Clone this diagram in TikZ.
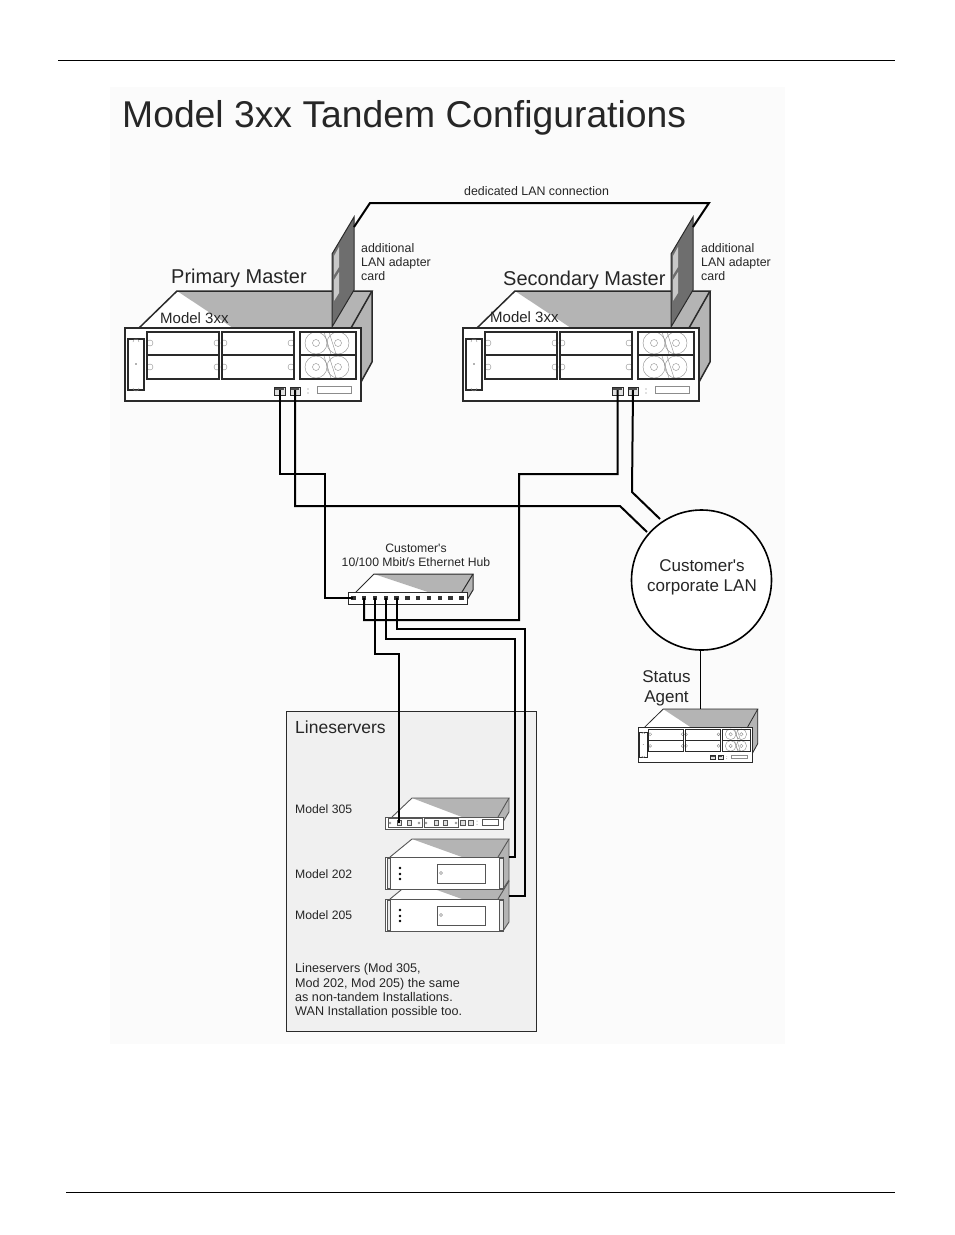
\documentclass[tikz,border=0pt]{standalone}
\usepackage{fontspec}
\setmainfont{Liberation Sans}
\definecolor{wedge}{HTML}{B4B4B4}
\definecolor{carddark}{HTML}{6E6E6E}
\definecolor{slot}{HTML}{C8C8C8}
\definecolor{panelgray}{HTML}{F0F0F0}
\definecolor{pagepanel}{HTML}{FBFBFB}
\definecolor{edge}{HTML}{2A2A2A}
\tikzset{
  wire/.style={draw=black,line width=2pt,line join=miter},
  thin wire/.style={draw=black,line width=1.7pt},
  label/.style={inner sep=0pt,anchor=base west,align=left,text=black!85},
  ctext/.style={inner sep=0pt,align=center,text=black!85},
  fine/.style={draw=black!45,line width=0.4pt},
  body/.style={draw=edge,line width=#1},
}
\newcommand{\fsz}[1]{\fontsize{#1}{#1}\selectfont}
% name, x, y, scale, line width
\newcommand{\rackserver}[5]{%
\begin{scope}[shift={(#2,#3)},scale=#4]
  \fill[white] (14,0)--(52,-37)--(247,-37)--(226,0)--cycle;
  \fill[wedge] (52,-37)--(247,-37)--(226,0)--(108,0)--cycle;
  \fill[wedge] (226,0)--(247,-37)--(247,34)--(236,54)--(236,0)--cycle;
  \draw[body=#5,line join=miter] (14,0)--(52,-37)--(247,-37)--(226,0);
  \draw[body=#5] (247,-37)--(247,34)--(236,54);
  \draw[body=#5,fill=white] (0,0) rectangle (236,73);
  \draw[body=#5] (3,11) rectangle (19,62);
  \draw[fine] (8,14) arc[start angle=180,end angle=360,radius=3];
  \draw[fine] (8,60) arc[start angle=180,end angle=0,radius=3];
  \fill[black!60] (11,36) circle[radius=0.8];
  \foreach \yy in {15,39} {
    \foreach \xx in {25,92,99,166} \draw[fine] (\xx,\yy) circle[radius=3];
    \draw[fine] (191,\yy) circle[radius=11];
    \draw[fine] (191,\yy) circle[radius=3.5];
    \draw[fine] (213,\yy) circle[radius=11];
    \draw[fine] (213,\yy) circle[radius=3.5];
    \draw[fine] (199,\yy-11) -- (206,\yy+11);
    \draw[fine] (204,\yy-11) -- (211,\yy+11);
  }
  \draw[body=#5] (22,4) rectangle (94,27);
  \draw[body=#5] (22,27) rectangle (94,51);
  \draw[body=#5] (97,4) rectangle (169,27);
  \draw[body=#5] (97,27) rectangle (169,51);
  \draw[body=#5] (175,4) rectangle (231,27);
  \draw[body=#5] (175,27) rectangle (231,51);
  \draw[body=#5*0.6,fill=black!12] (149,59) rectangle (160,67);
  \draw[body=#5*0.6,fill=black!12] (165,59) rectangle (175,67);
  \fill[black!70] (150,60) rectangle (159,61.5);
  \fill[black!70] (166,60) rectangle (174,61.5);
  \fill[black!50] (183,61) circle[radius=0.7] (183,65) circle[radius=0.7];
  \draw[fine] (192,58) rectangle (226,65);
  \coordinate (#1p1) at (154.5,62);
  \coordinate (#1p2) at (170,62);
  \coordinate (#1top) at (150,-37);
\end{scope}}
% name, x, y(front top)
\newcommand{\adaptercard}[3]{%
\begin{scope}[shift={(#2,#3)}]
  \draw[fill=carddark,draw=edge,line width=1pt,line join=miter] (0,0)--(0,-73)--(22,-110)--(22,-37)--cycle;
  \fill[slot] (2,-71) -- (7,-80) -- (7,-60) -- (2,-52) -- cycle;
  \fill[slot] (2,-47) -- (7,-55) -- (7,-34) -- (2,-26) -- cycle;
  \coordinate (#1c) at (22,-100);
\end{scope}}
% name, x, y front top
\newcommand{\boxunit}[3]{%
\begin{scope}[shift={(#2,#3)}]
  \fill[white] (5,0)--(27,-18)--(124,-18)--(113,0)--cycle;
  \fill[wedge] (27,-18)--(124,-18)--(113,0)--(77,0)--cycle;
  \fill[wedge] (113,0)--(124,-18)--(124,23)--(118,32)--(118,0)--cycle;
  \draw[edge!80,line width=0.9pt] (5,0)--(27,-18)--(124,-18)--(113,0);
  \draw[edge!80,line width=0.9pt] (124,-18)--(124,23)--(118,32);
  \draw[edge!80,line width=1pt,fill=white] (0,0) rectangle (118,32);
  \draw[edge!80,line width=0.8pt,fill=black!8] (2,1) rectangle (5,31);
  \draw[edge!80,line width=0.8pt,fill=black!8] (114,1) rectangle (118,31);
  \fill[black] (15,11) circle[radius=1.4] (15,17) circle[radius=1.4] (15,22) circle[radius=1.4];
  \draw[edge!80,line width=0.9pt] (52,7) rectangle (100,26);
  \draw[fine] (56,16) circle[radius=1.5];
  \coordinate (#1side) at (124,0);
\end{scope}}
\begin{document}
\begin{tikzpicture}[x=1pt,y=-1pt]
\useasboundingbox (0,0) rectangle (954,1235);
\fill[white] (0,0) rectangle (954,1235);
\fill[pagepanel] (110,87) rectangle (785,1044);
% page rules
\coordinate (ruleTa) at (58,60); \coordinate (ruleTb) at (895,60);
\coordinate (ruleBa) at (66,1192); \coordinate (ruleBb) at (895,1192);
\draw[black,line width=1pt] (ruleTa)--(ruleTb);
\draw[black,line width=1pt] (ruleBa)--(ruleBb);
% lineservers panel
\draw[fill=panelgray,draw=edge,line width=1pt] (286,711) rectangle (536,1031);
% title
\node[label] (title) at (122,127) {\fsz{37.3}Model 3xx Tandem Configurations};
% masters
\rackserver{pm}{125}{328}{1}{1.5pt}
\adaptercard{pmc}{332}{327}
\rackserver{sm}{463}{328}{1}{1.5pt}
\adaptercard{smc}{671}{327}
\node[label] (pmname) at (171,283) {\fsz{20}Primary Master};
\node[label] (smname) at (503,285) {\fsz{20}Secondary Master};
\node[label] (pmmodel) at (160,323) {\fsz{15}Model 3xx};
\node[label] (smmodel) at (490,322) {\fsz{15}Model 3xx};
\node[label] (pmadd) at (361,252.5) {\fsz{12.4}additional};
\node[label] (pmadd2) at (361,266.5) {\fsz{12.4}LAN adapter};
\node[label] (pmadd3) at (361,280.5) {\fsz{12.4}card};
\node[label] (smadd) at (701,252.5) {\fsz{12.4}additional};
\node[label] (smadd2) at (701,266.5) {\fsz{12.4}LAN adapter};
\node[label] (smadd3) at (701,280.5) {\fsz{12.4}card};
\node[label] (ded) at (464,195.5) {\fsz{12.4}dedicated LAN connection};
% dedicated link
\coordinate (dA) at (370,203); \coordinate (dB) at (709,203);
\draw[wire] (pmcc) -- (dA) -- (dB) -- (smcc);
% hub
\fill[white] (356,592)--(374,574)--(473,574)--(462,592)--cycle;
\fill[wedge] (374,574)--(473,574)--(462,592)--(428,592)--cycle;
\fill[wedge] (462,592)--(473,574)--(473,590)--(467,600)--(467,592)--cycle;
\draw[edge,line width=1pt] (356,592)--(374,574)--(473,574)--(462,592);
\draw[edge,line width=1pt] (473,574)--(473,590)--(467,600);
\draw[edge,line width=1pt,fill=white] (348,592) rectangle (467,604) node[pos=0.5,inner sep=0pt] (hub) {};
\foreach \i in {0,...,10} {
  \coordinate (hp\i) at ({353.3+10.8*\i},598);
  \fill[black!80] ({353.3+10.8*\i-2.2},595.8) rectangle ({353.3+10.8*\i+2.2},600.2);
}
\node[ctext,font=\fontsize{12.2}{14}\selectfont] (hubt) at (416,555) {Customer\textquotesingle s\\10/100 Mbit/s Ethernet Hub};
% LAN
\node[circle,draw=black,line width=1.6pt,fill=white,minimum size=140pt,inner sep=0pt] (lan) at (701.5,580) {};
\node[ctext,font=\fontsize{17}{20}\selectfont] (lant) at (702,577) {Customer\textquotesingle s\\corporate LAN};
% status agent
\rackserver{sa}{638}{727}{0.485}{0.8pt}
\coordinate (saT) at (700.5,709);
\coordinate (lanB) at (700.5,650);
\draw[thin wire] (lanB) -- (saT);
\node[ctext,font=\fontsize{17}{20}\selectfont] (sat) at (666.5,688) {Status\\Agent};
% lineservers
\node[label] (lst) at (295,733) {\fsz{17.5}Lineservers};
\node[label] (m305) at (295,813.5) {\fsz{12.2}Model 305};
\node[label] (m202) at (295,878.5) {\fsz{12.2}Model 202};
\node[label] (m205) at (295,919.5) {\fsz{12.2}Model 205};
\node[label] (note) at (295,972.5) {\fsz{12.6}Lineservers (Mod 305,};
\node[label] (note2) at (295,987) {\fsz{12.6}Mod 202, Mod 205) the same};
\node[label] (note3) at (295,1001) {\fsz{12.6}as non-tandem Installations.};
\node[label] (note4) at (295,1015.5) {\fsz{12.6}WAN Installation possible too.};
% model 205, then 202 in front
\boxunit{mb}{385}{899}
\boxunit{ma}{385}{857}
% model 305
\begin{scope}[shift={(385,817)}]
  \fill[white] (7,0)--(27,-19)--(124,-19)--(113,0)--cycle;
  \fill[wedge] (27,-19)--(124,-19)--(113,0)--(77,0)--cycle;
  \fill[wedge] (113,0)--(124,-19)--(124,-5)--(118,5)--(118,0)--cycle;
  \draw[edge!80,line width=0.9pt] (7,0)--(27,-19)--(124,-19)--(113,0);
  \draw[edge!80,line width=0.9pt] (124,-19)--(124,-5)--(118,5);
  \draw[edge!80,line width=1pt,fill=white] (0,0) rectangle (118,12);
  \draw[edge!80,line width=0.7pt] (3,1.5) rectangle (37,10);
  \draw[edge!80,line width=0.7pt] (39,1.5) rectangle (73,10);
  \foreach \xx in {14,24,51,60} \draw[edge!80,line width=0.6pt,fill=black!12] (\xx-2.2,3.5) rectangle (\xx+2.2,8);
  \foreach \xx in {5,34,41,71} \draw[fine] (\xx,6) circle[radius=1];
  \foreach \xx in {78,86} \draw[edge!80,line width=0.6pt,fill=black!12] (\xx-2.4,3.5) rectangle (\xx+2.4,8);
  \fill[black!50] (92,4) circle[radius=.5] (92,7.5) circle[radius=.5];
  \draw[edge!80,line width=0.7pt] (97,2.5) rectangle (113,8.5);
  \coordinate (mcport) at (14,6);
\end{scope}
% network wiring
\coordinate (b1) at (325,474);
\draw[wire] (pmp1) |- (b1) |- (hp0);
\coordinate (b2) at (620,506);
\coordinate (lanA) at (647,532);
\draw[wire] (pmp2) |- (b2) -- (lanA);
\coordinate (b3) at (519,474);
\coordinate (b3b) at (364,620);
\draw[wire] (smp1) |- (b3) |- (b3b) -- (hp1);
\coordinate (b4) at (632,492);
\coordinate (lanC) at (660,519);
\draw[wire] (smp2) -- (b4) -- (lanC);
\coordinate (b5) at (399,654);
\draw[wire] (hp2) |- (b5) -- (mcport);
\coordinate (b6) at (515,639);
\coordinate (b6b) at (509,857);
\draw[wire] (hp3) |- (b6) |- (b6b);
\coordinate (b7) at (525,629);
\coordinate (b7b) at (509,896);
\draw[wire] (hp4) |- (b7) |- (b7b);
\end{tikzpicture}
\end{document}
